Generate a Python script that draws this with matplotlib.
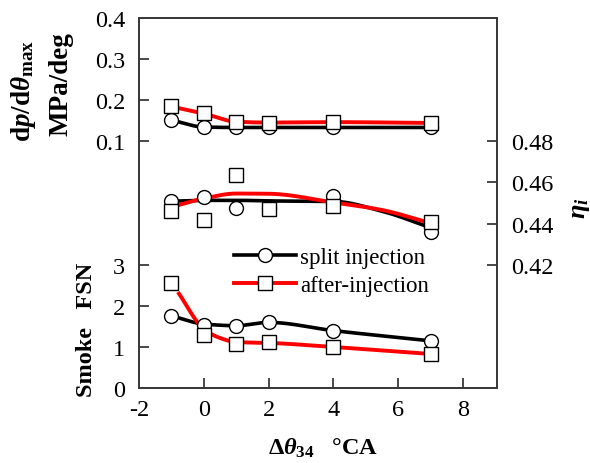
import numpy as np
import matplotlib
matplotlib.use("Agg")
import matplotlib.pyplot as plt
from matplotlib.lines import Line2D

plt.rcParams['font.family'] = ['Liberation Serif', 'DejaVu Serif']
plt.rcParams['mathtext.fontset'] = 'custom'
plt.rcParams['mathtext.rm'] = 'Liberation Serif:bold'
plt.rcParams['mathtext.it'] = 'Liberation Serif:bold:italic'
plt.rcParams['mathtext.bf'] = 'Liberation Serif:bold'

# ---------------- data ----------------
x_pts = [-1, 0, 1, 2, 4, 7]

dp_split = [0.152, 0.134, 0.134, 0.134, 0.134, 0.133]
dp_after = [0.185, 0.168, 0.146, 0.144, 0.146, 0.143]

eta_split = [0.4512, 0.4527, 0.4478, 0.4478, 0.4532, 0.4360]
eta_after = [0.4463, 0.4415, 0.4634, 0.4473, 0.4483, 0.4410]

smoke_split = [1.75, 1.54, 1.51, 1.61, 1.39, 1.15]
smoke_after = [2.56, 1.29, 1.07, 1.12, 1.00, 0.83]

# trend lines
dp_split_fit_x = [-1, 0, 1, 2, 4, 7]
dp_split_fit = [0.151, 0.134, 0.133, 0.133, 0.133, 0.133]
dp_after_fit_x = [-1, 0, 1, 2, 4, 7]
dp_after_fit = [0.184, 0.167, 0.147, 0.145, 0.146, 0.144]

eta_split_fit_x = [-1, 0, 1, 2, 4, 5.5, 7]
eta_split_fit = [0.4509, 0.4513, 0.4513, 0.4510, 0.4508, 0.4460, 0.4380]
eta_after_fit_x = [-1, 0, 1, 2, 4, 5.5, 7]
eta_after_fit = [0.4480, 0.4522, 0.4546, 0.4545, 0.4503, 0.4466, 0.4402]

smoke_split_fit_x = [-1, 0, 1, 2, 4, 7]
smoke_split_fit = [1.76, 1.56, 1.52, 1.60, 1.40, 1.15]
smoke_after_fit_x = [-0.8, 0, 0.5, 1, 2, 4, 7]
smoke_after_fit = [2.34, 1.44, 1.22, 1.12, 1.10, 1.00, 0.83]

labels = ['split injection', 'after-injection']


def pchip(xk, yk, n=200):
    xk = np.asarray(xk, float)
    yk = np.asarray(yk, float)
    h = np.diff(xk)
    d = np.diff(yk) / h
    m = np.zeros_like(yk)
    for k in range(1, len(xk) - 1):
        if d[k - 1] * d[k] > 0:
            w1 = 2 * h[k] + h[k - 1]
            w2 = h[k] + 2 * h[k - 1]
            m[k] = (w1 + w2) / (w1 / d[k - 1] + w2 / d[k])
        else:
            m[k] = 0.0
    m[0] = d[0]
    m[-1] = d[-1]
    xs = np.linspace(xk[0], xk[-1], n)
    idx = np.clip(np.searchsorted(xk, xs) - 1, 0, len(xk) - 2)
    t = (xs - xk[idx]) / h[idx]
    h00 = 2 * t**3 - 3 * t**2 + 1
    h10 = t**3 - 2 * t**2 + t
    h01 = -2 * t**3 + 3 * t**2
    h11 = t**3 - t**2
    ys = h00 * yk[idx] + h10 * h[idx] * m[idx] + h01 * yk[idx + 1] + h11 * h[idx] * m[idx + 1]
    return xs, ys


fig = plt.figure(figsize=(5.9, 4.64), dpi=100)
ax = fig.add_axes([139 / 590, 1 - 389 / 464, 358 / 590, 370 / 464])
ax_eta = ax.twinx()
ax_dp = ax.twinx()

spine_c = '#3a3a3a'
for a in (ax, ax_eta, ax_dp):
    for s in a.spines.values():
        s.set_color(spine_c)
        s.set_linewidth(1.3)
    a.patch.set_visible(False)
ax.set_xlim(-2, 9.05)

ax.set_ylim(0, 370 / 41)
ax_eta.set_ylim(0.36, 0.54)
ax_dp.set_ylim(0.4 - 370 / 410, 0.4)

ax.set_yticks([0, 1, 2, 3])
ax.set_yticklabels(['0', '1', '2', '3'])
ax_eta.set_yticks([0.42, 0.44, 0.46, 0.48])
ax_eta.set_yticklabels(['0.42', '0.44', '0.46', '0.48'])
ax_dp.yaxis.tick_left()
ax_dp.set_yticks([0.1, 0.2, 0.3, 0.4])
ax_dp.set_yticklabels(['0.1', '0.2', '0.3', '0.4'])
ax.set_xticks([-2, 0, 2, 4, 6, 8])
ax.set_xticklabels(['-2', '0', '2', '4', '6', '8'])
ax_eta.xaxis.set_visible(False)
ax_dp.xaxis.set_visible(False)

fs = 17.5
ax.tick_params(axis='both', direction='in', length=7, width=1.3, color=spine_c,
               labelsize=fs, pad=8)
ax.tick_params(axis='y', pad=10)
ax_dp.tick_params(axis='y', direction='in', length=7, width=1.3, color=spine_c,
                  labelsize=fs, pad=10)
ax_eta.tick_params(axis='y', direction='in', length=7, width=1.3, color=spine_c,
                   labelsize=fs, pad=10)

lw_k = 2.6
lw_r = 2.8
mk = dict(markerfacecolor='white', markeredgecolor='black', markeredgewidth=1.0,
          linestyle='none', zorder=5)

# dp/dtheta
xs, ys = pchip(dp_split_fit_x, dp_split_fit)
ax_dp.plot(xs, ys, color='black', lw=lw_k, zorder=3, solid_capstyle='butt')
xs, ys = pchip(dp_after_fit_x, dp_after_fit)
ax_dp.plot(xs, ys, color='red', lw=lw_r, zorder=3, solid_capstyle='butt')
ax_dp.plot(x_pts, dp_split, marker='o', markersize=10, **mk)
ax_dp.plot(x_pts, dp_after, marker='s', markersize=9.5, **mk)

# eta
xs, ys = pchip(eta_split_fit_x, eta_split_fit)
ax_eta.plot(xs, ys, color='black', lw=lw_k, zorder=3, solid_capstyle='butt')
xs, ys = pchip(eta_after_fit_x, eta_after_fit)
ax_eta.plot(xs, ys, color='red', lw=lw_r, zorder=3, solid_capstyle='butt')
ax_eta.plot(x_pts, eta_split, marker='o', markersize=10, **mk)
ax_eta.plot(x_pts, eta_after, marker='s', markersize=9.5, **mk)

# smoke
xs, ys = pchip(smoke_split_fit_x, smoke_split_fit)
ax.plot(xs, ys, color='black', lw=lw_k, zorder=3, solid_capstyle='butt')
xs, ys = pchip(smoke_after_fit_x, smoke_after_fit)
ax.plot(xs, ys, color='red', lw=lw_r, zorder=3, solid_capstyle='butt')
ax.plot(x_pts, smoke_split, marker='o', markersize=10, **mk)
ax.plot(x_pts, smoke_after, marker='s', markersize=9.5, **mk)

handles = [
    Line2D([], [], color='black', lw=lw_k, marker='o', markersize=10,
           markerfacecolor='white', markeredgecolor='black', markeredgewidth=1.0),
    Line2D([], [], color='red', lw=lw_r, marker='s', markersize=9.5,
           markerfacecolor='white', markeredgecolor='black', markeredgewidth=1.0),
]
leg = ax_dp.legend(handles, labels, loc='upper left', bbox_to_anchor=(0.265, 0.382),
                   frameon=False, fontsize=16.5, handlelength=2.7, handletextpad=0.2,
                   labelspacing=0.3, borderpad=0, borderaxespad=0)
leg.set_zorder(10)

# axis labels
fig.text(24 / 590, 1 - 91 / 464, r'd$p$/d$\theta_{\mathrm{max}}$', rotation=90,
         ha='center', va='center', fontsize=19.5, fontweight='bold')
fig.text(61 / 590, 1 - 84 / 464, 'MPa/deg', rotation=90,
         ha='center', va='center', fontsize=19.5, fontweight='bold')
fig.text(86 / 590, 1 - 330 / 464, 'Smoke   FSN', rotation=90,
         ha='center', va='center', fontsize=17.5, fontweight='bold')
fig.text(580 / 590, 1 - 208 / 464, r'$\eta_{i}$', rotation=90,
         ha='center', va='center', fontsize=19, fontweight='bold')
fig.text(323 / 590, 1 - 448 / 464, r'$\Delta\theta_{34}$   °CA',
         ha='center', va='center', fontsize=17.5, fontweight='bold')

fig.savefig('out.png', dpi=100)
